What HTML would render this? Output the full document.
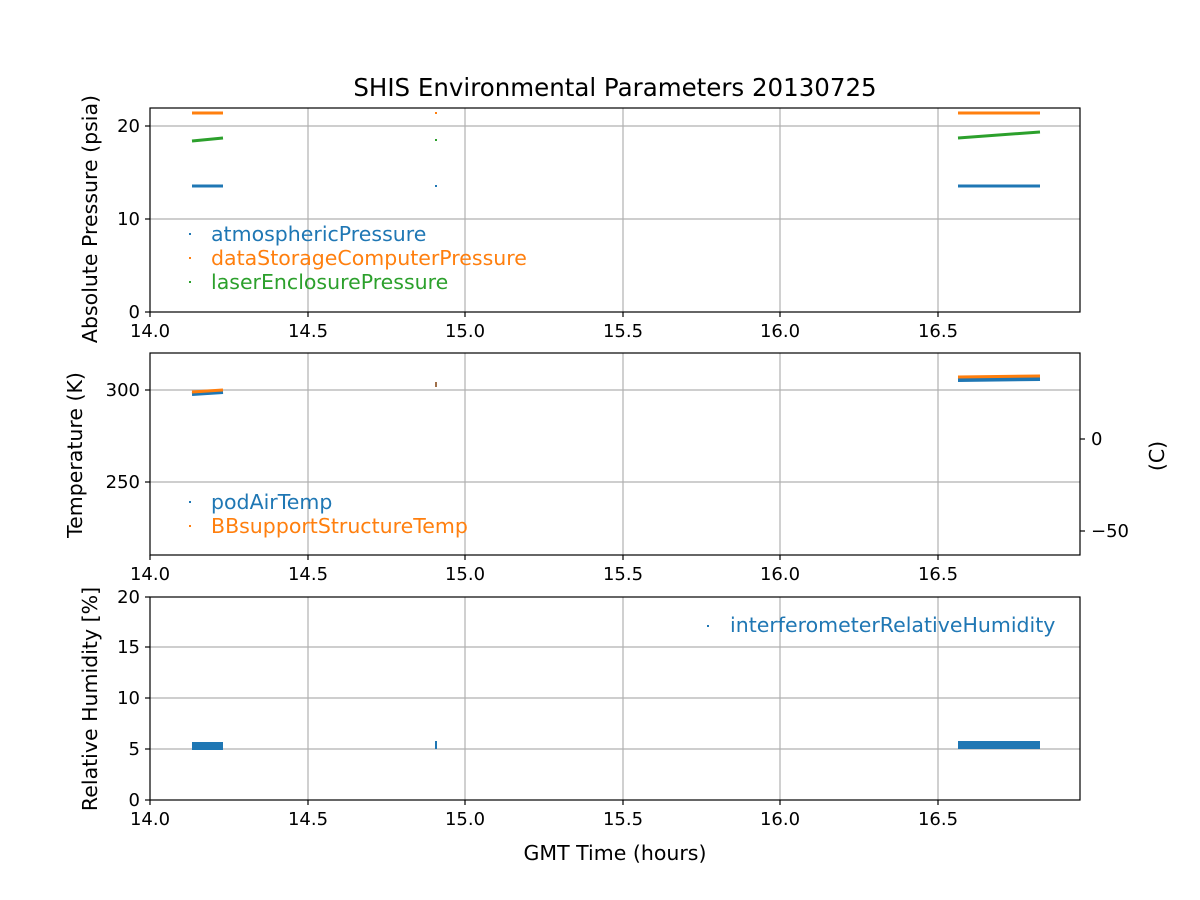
<!DOCTYPE html>
<html><head><meta charset="utf-8"><style>body{margin:0;background:#fff}svg{display:block}text{font-family:"DejaVu Sans","Liberation Sans",sans-serif;fill:#000}</style></head><body>
<svg width="1200" height="900" xmlns="http://www.w3.org/2000/svg">
<rect width="1200" height="900" fill="#fff"/>
<text x="615" y="96" font-size="24.5" text-anchor="middle">SHIS Environmental Parameters 20130725</text>
<g stroke="#b0b0b0" stroke-width="1.2">
<line x1="308" y1="108" x2="308" y2="312"/><line x1="465" y1="108" x2="465" y2="312"/><line x1="623" y1="108" x2="623" y2="312"/><line x1="780" y1="108" x2="780" y2="312"/><line x1="938" y1="108" x2="938" y2="312"/>
<line x1="150" y1="219" x2="1080" y2="219"/><line x1="150" y1="126" x2="1080" y2="126"/>
<line x1="308" y1="353" x2="308" y2="555"/><line x1="465" y1="353" x2="465" y2="555"/><line x1="623" y1="353" x2="623" y2="555"/><line x1="780" y1="353" x2="780" y2="555"/><line x1="938" y1="353" x2="938" y2="555"/>
<line x1="150" y1="390" x2="1080" y2="390"/><line x1="150" y1="482" x2="1080" y2="482"/>
<line x1="308" y1="597" x2="308" y2="800"/><line x1="465" y1="597" x2="465" y2="800"/><line x1="623" y1="597" x2="623" y2="800"/><line x1="780" y1="597" x2="780" y2="800"/><line x1="938" y1="597" x2="938" y2="800"/>
<line x1="150" y1="749" x2="1080" y2="749"/><line x1="150" y1="698" x2="1080" y2="698"/><line x1="150" y1="647" x2="1080" y2="647"/>
</g>
<g stroke-width="3">
<line x1="192" y1="186" x2="223" y2="186" stroke="#1f77b4"/><line x1="958" y1="186" x2="1040" y2="186" stroke="#1f77b4"/>
<line x1="192" y1="113" x2="223" y2="113" stroke="#ff7f0e"/><line x1="958" y1="113" x2="1040" y2="113" stroke="#ff7f0e"/>
<line x1="192" y1="141" x2="223" y2="138" stroke="#2ca02c"/><line x1="958" y1="138" x2="1040" y2="132" stroke="#2ca02c"/>
</g>
<rect x="435" y="185" width="2" height="2" fill="#1f77b4"/><rect x="435" y="112" width="2" height="2" fill="#ff7f0e"/><rect x="435" y="139" width="2" height="2" fill="#2ca02c"/>
<line x1="192" y1="394" x2="223" y2="392" stroke="#1f77b4" stroke-width="4"/>
<line x1="192" y1="392" x2="223" y2="390" stroke="#ff7f0e" stroke-width="3"/>
<line x1="958" y1="380" x2="1040" y2="379" stroke="#1f77b4" stroke-width="4"/>
<line x1="958" y1="377" x2="1040" y2="376" stroke="#ff7f0e" stroke-width="3"/>
<rect x="435" y="382" width="2" height="5" fill="#a0704a"/>
<rect x="192" y="742" width="31" height="8" fill="#1f77b4"/>
<rect x="958" y="741" width="82" height="8" fill="#1f77b4"/>
<rect x="435" y="741" width="2" height="8" fill="#1f77b4"/>
<g fill="none" stroke="#000" stroke-width="1.2">
<rect x="150" y="108" width="930" height="204"/><rect x="150" y="353" width="930" height="202"/><rect x="150" y="597" width="930" height="203"/>
</g>
<g stroke="#000" stroke-width="1.2">
<line x1="150" y1="312" x2="150" y2="317"/><line x1="308" y1="312" x2="308" y2="317"/><line x1="465" y1="312" x2="465" y2="317"/><line x1="623" y1="312" x2="623" y2="317"/><line x1="780" y1="312" x2="780" y2="317"/><line x1="938" y1="312" x2="938" y2="317"/>
<line x1="150" y1="555" x2="150" y2="560"/><line x1="308" y1="555" x2="308" y2="560"/><line x1="465" y1="555" x2="465" y2="560"/><line x1="623" y1="555" x2="623" y2="560"/><line x1="780" y1="555" x2="780" y2="560"/><line x1="938" y1="555" x2="938" y2="560"/>
<line x1="150" y1="800" x2="150" y2="805"/><line x1="308" y1="800" x2="308" y2="805"/><line x1="465" y1="800" x2="465" y2="805"/><line x1="623" y1="800" x2="623" y2="805"/><line x1="780" y1="800" x2="780" y2="805"/><line x1="938" y1="800" x2="938" y2="805"/>
<line x1="145" y1="312" x2="150" y2="312"/><line x1="145" y1="219" x2="150" y2="219"/><line x1="145" y1="126" x2="150" y2="126"/>
<line x1="145" y1="390" x2="150" y2="390"/><line x1="145" y1="482" x2="150" y2="482"/>
<line x1="1080" y1="439" x2="1085" y2="439"/><line x1="1080" y1="531" x2="1085" y2="531"/>
<line x1="145" y1="800" x2="150" y2="800"/><line x1="145" y1="749" x2="150" y2="749"/><line x1="145" y1="698" x2="150" y2="698"/><line x1="145" y1="647" x2="150" y2="647"/><line x1="145" y1="597" x2="150" y2="597"/>
</g>
<g font-size="18" text-anchor="middle">
<text x="150" y="337">14.0</text><text x="308" y="337">14.5</text><text x="465" y="337">15.0</text><text x="623" y="337">15.5</text><text x="780" y="337">16.0</text><text x="938" y="337">16.5</text>
<text x="150" y="580">14.0</text><text x="308" y="580">14.5</text><text x="465" y="580">15.0</text><text x="623" y="580">15.5</text><text x="780" y="580">16.0</text><text x="938" y="580">16.5</text>
<text x="150" y="825">14.0</text><text x="308" y="825">14.5</text><text x="465" y="825">15.0</text><text x="623" y="825">15.5</text><text x="780" y="825">16.0</text><text x="938" y="825">16.5</text>
</g>
<g font-size="18" text-anchor="end">
<text x="140" y="318">0</text><text x="140" y="225">10</text><text x="140" y="132">20</text>
<text x="140" y="396">300</text><text x="140" y="488">250</text>
<text x="140" y="806">0</text><text x="140" y="755">5</text><text x="140" y="704">10</text><text x="140" y="653">15</text><text x="140" y="603">20</text>
</g>
<g font-size="18"><text x="1091" y="445">0</text><text x="1091" y="537">−50</text></g>
<g font-size="20.5" text-anchor="middle">
<text transform="translate(97,219) rotate(-90)">Absolute Pressure (psia)</text>
<text transform="translate(82,455) rotate(-90)">Temperature (K)</text>
<text transform="translate(1164,456) rotate(-90)">(C)</text>
<text transform="translate(97,699) rotate(-90)">Relative Humidity [%]</text>
<text x="615" y="860">GMT Time (hours)</text>
</g>
<g font-size="20.5">
<rect x="189" y="233" width="2" height="2" fill="#1f77b4"/><text x="211" y="241" style="fill:#1f77b4">atmosphericPressure</text>
<rect x="189" y="257" width="2" height="2" fill="#ff7f0e"/><text x="211" y="265" style="fill:#ff7f0e">dataStorageComputerPressure</text>
<rect x="189" y="281" width="2" height="2" fill="#2ca02c"/><text x="211" y="289" style="fill:#2ca02c">laserEnclosurePressure</text>
<rect x="189" y="501" width="2" height="2" fill="#1f77b4"/><text x="211" y="509" style="fill:#1f77b4">podAirTemp</text>
<rect x="189" y="525" width="2" height="2" fill="#ff7f0e"/><text x="211" y="533" style="fill:#ff7f0e">BBsupportStructureTemp</text>
<rect x="707" y="625" width="2" height="2" fill="#1f77b4"/><text x="730" y="632" style="fill:#1f77b4">interferometerRelativeHumidity</text>
</g>
</svg>
</body></html>
